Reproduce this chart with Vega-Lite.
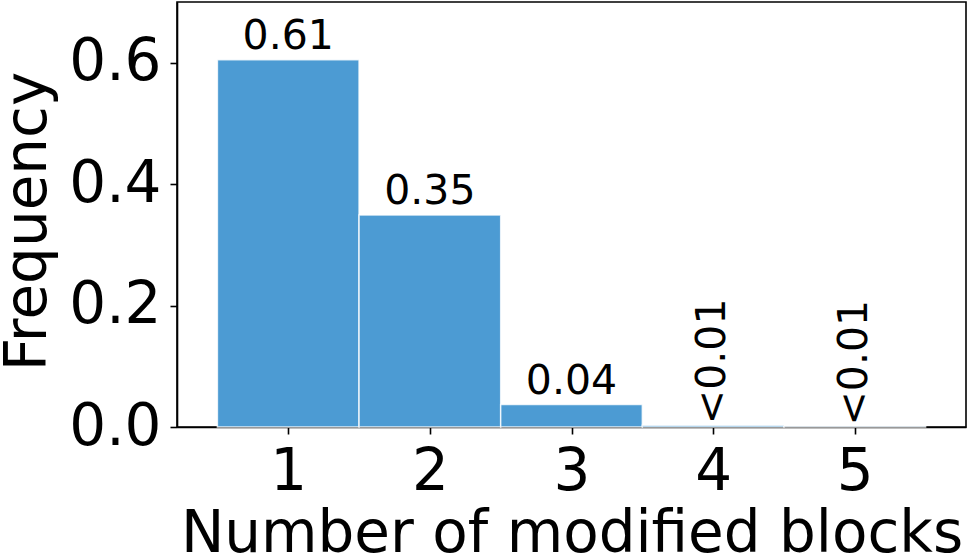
{
  "$schema": "https://vega.github.io/schema/vega-lite/v6.json",
  "width": 789,
  "height": 425,
  "autosize": {"type": "none"},
  "padding": {"left": 177, "top": 2, "right": 4, "bottom": 132},
  "background": "white",
  "config": {
    "view": {"stroke": "black", "strokeWidth": 1.6},
    "font": "DejaVu Sans",
    "axis": {
      "domainColor": "black",
      "domainWidth": 1.6,
      "tickColor": "black",
      "tickWidth": 1.6,
      "tickSize": 7,
      "grid": false,
      "labelFont": "DejaVu Sans",
      "labelFontSize": 58,
      "labelColor": "black",
      "titleFont": "DejaVu Sans",
      "titleFontSize": 58,
      "titleFontWeight": "normal",
      "titleColor": "black"
    }
  },
  "data": {
    "values": [
      {"blocks": 1, "bin_start": 0.5, "bin_end": 1.5, "frequency": 0.605, "label": "0.61"},
      {"blocks": 2, "bin_start": 1.5, "bin_end": 2.5, "frequency": 0.349, "label": "0.35"},
      {"blocks": 3, "bin_start": 2.5, "bin_end": 3.5, "frequency": 0.037, "label": "0.04"},
      {"blocks": 4, "bin_start": 3.5, "bin_end": 4.5, "frequency": 0.003, "label": "<0.01"},
      {"blocks": 5, "bin_start": 4.5, "bin_end": 5.5, "frequency": 0.0008, "label": "<0.01"}
    ]
  },
  "layer": [
    {
      "mark": {"type": "bar", "orient": "vertical", "color": "#4C9BD3", "stroke": "white", "strokeWidth": 1.5, "strokeOpacity": 0.8},
      "encoding": {
        "x": {
          "field": "bin_start",
          "type": "quantitative",
          "scale": {"domain": [0.25, 5.75], "nice": false, "zero": false},
          "axis": {
            "values": [1, 2, 3, 4, 5],
            "format": "d",
            "labelPadding": 9,
            "labelBaseline": "top",
            "title": "Number of modified blocks",
            "titleY": 124,
            "titleBaseline": "alphabetic"
          }
        },
        "x2": {"field": "bin_end"},
        "y": {
          "field": "frequency",
          "type": "quantitative",
          "scale": {"domain": [0, 0.7], "nice": false},
          "axis": {
            "values": [0, 0.2, 0.4, 0.6],
            "format": ".1f",
            "labelPadding": 9,
            "title": "Frequency",
            "titleAngle": 270,
            "titleX": -132,
            "titleY": 219,
            "titleAlign": "center",
            "titleBaseline": "alphabetic"
          }
        },
        "y2": {"datum": 0}
      }
    },
    {
      "transform": [{"filter": "datum.frequency >= 0.01"}],
      "mark": {"type": "text", "fontSize": 41, "font": "DejaVu Sans", "color": "black", "baseline": "alphabetic", "align": "center", "dy": -11},
      "encoding": {
        "x": {"field": "blocks", "type": "quantitative"},
        "y": {"field": "frequency", "type": "quantitative"},
        "text": {"field": "label"}
      }
    },
    {
      "transform": [{"filter": "datum.frequency < 0.01"}],
      "mark": {"type": "text", "fontSize": 41, "font": "DejaVu Sans", "color": "black", "baseline": "middle", "align": "left", "angle": 270, "dx": 1},
      "encoding": {
        "x": {"field": "blocks", "type": "quantitative"},
        "y": {"field": "frequency", "type": "quantitative"},
        "text": {"field": "label"}
      }
    }
  ]
}
